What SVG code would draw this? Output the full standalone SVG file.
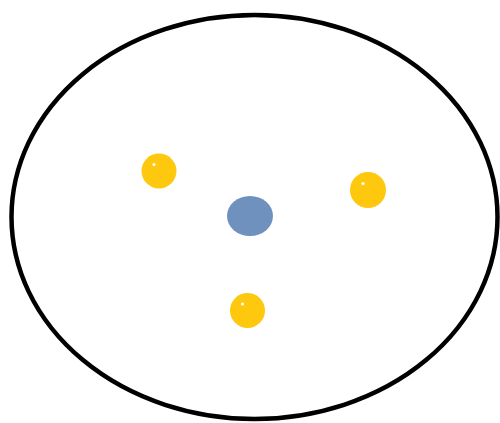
<svg xmlns="http://www.w3.org/2000/svg" width="500" height="423" viewBox="0 0 500 423">
<style>
.outer{fill:#ffffff;stroke:#000000;stroke-width:4.5}
.dot{fill:#fec80f}
.hl{fill:#ffffff}
.core{fill:#6f91bd}
</style>
<rect width="500" height="423" fill="#ffffff"/>
<g id="boundary"><ellipse class="outer" cx="254.5" cy="217" rx="243" ry="202"/></g>
<g id="center"><ellipse class="core" cx="250" cy="216" rx="23" ry="20"/></g>
<g id="dot1"><circle class="dot" cx="159" cy="171" r="17.5"/><circle class="hl" cx="154" cy="164.5" r="1.6"/></g>
<g id="dot2"><circle class="dot" cx="368" cy="190" r="18"/><circle class="hl" cx="363" cy="183.5" r="1.6"/></g>
<g id="dot3"><circle class="dot" cx="247.5" cy="310.5" r="17.5"/><circle class="hl" cx="242.5" cy="304" r="1.6"/></g>
<g id="connectors"></g>
</svg>
